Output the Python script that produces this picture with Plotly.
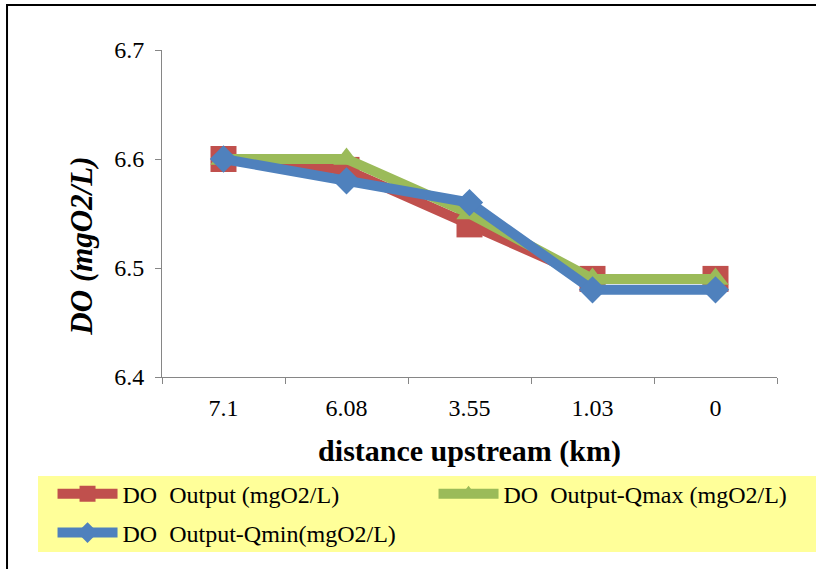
import plotly.graph_objects as go

# distance upstream categories (km) and DO values (mgO2/L)
distance = ["7.1", "6.08", "3.55", "1.03", "0"]
do_output = [6.60, 6.59, 6.54, 6.49, 6.49]
do_qmax = [6.60, 6.60, 6.55, 6.49, 6.49]
do_qmin = [6.60, 6.58, 6.56, 6.48, 6.48]

serif = "Liberation Serif, Times New Roman, serif"

fig = go.Figure()
series = [
    ("DO  Output (mgO2/L)", do_output, "#C0504D", "square", 26, "legend"),
    ("DO  Output-Qmax (mgO2/L)", do_qmax, "#9BBB59", "triangle-up", 23, "legend"),
    ("DO  Output-Qmin(mgO2/L)", do_qmin, "#4F81BD", "diamond", 21, "legend2"),
]
for name, vals, col, sym, size, leg in series:
    fig.add_trace(go.Scatter(
        x=distance, y=vals, name=name, mode="lines+markers",
        line=dict(color=col, width=10),
        marker=dict(symbol=sym, size=size, color=col),
        legend=leg,
    ))

legend_common = dict(
    orientation="h", xanchor="left", yanchor="middle",
    bgcolor="rgba(0,0,0,0)", font=dict(family=serif, size=24),
    itemwidth=60,
)

fig.update_layout(
    width=816, height=569,
    margin=dict(l=162, r=39, t=50, b=192, autoexpand=False),
    paper_bgcolor="white", plot_bgcolor="white",
    font=dict(family=serif, color="black"),
    showlegend=True,
    legend=dict(legend_common, x=-0.178, y=-0.358,
                entrywidth=306, entrywidthmode="pixels"),
    legend2=dict(legend_common, x=-0.178, y=-0.477),
    shapes=[
        # yellow legend panel
        dict(type="rect", xref="paper", yref="paper",
             x0=-0.2016, x1=1.0699, y0=-0.3028, y1=-0.5352,
             fillcolor="#FFFF99", line=dict(width=0), layer="below"),
        # outer chart border
        dict(type="rect", xref="paper", yref="paper",
             x0=-0.2520, x1=1.2, y0=-1.0, y1=1.1376,
             fillcolor="rgba(0,0,0,0)", line=dict(color="black", width=2)),
    ],
    annotations=[
        dict(text="DO (mgO2/L)", textangle=-90, showarrow=False,
             xref="paper", yref="paper", x=-0.131, y=0.40,
             xanchor="center", yanchor="middle",
             font=dict(family=serif, size=31, weight="bold", style="italic")),
    ],
)

fig.update_xaxes(
    type="category", range=[-0.5, 4.5],
    showline=True, linecolor="#868686", linewidth=1,
    ticks="outside", ticklen=6, tickcolor="#868686", tickson="boundaries",
    ticklabelstandoff=9,
    showgrid=False, zeroline=False,
    tickfont=dict(family=serif, size=24),
    title=dict(text="distance upstream (km)", standoff=20,
               font=dict(family=serif, size=30, weight="bold")),
)
fig.update_yaxes(
    range=[6.4, 6.7], tickvals=[6.4, 6.5, 6.6, 6.7],
    ticktext=["6.4", "6.5", "6.6", "6.7"],
    showline=True, linecolor="#868686", linewidth=1,
    ticks="outside", ticklen=6, tickcolor="#868686",
    ticklabelstandoff=6,
    showgrid=False, zeroline=False,
    tickfont=dict(family=serif, size=24),
)

fig.write_html("out.html")
